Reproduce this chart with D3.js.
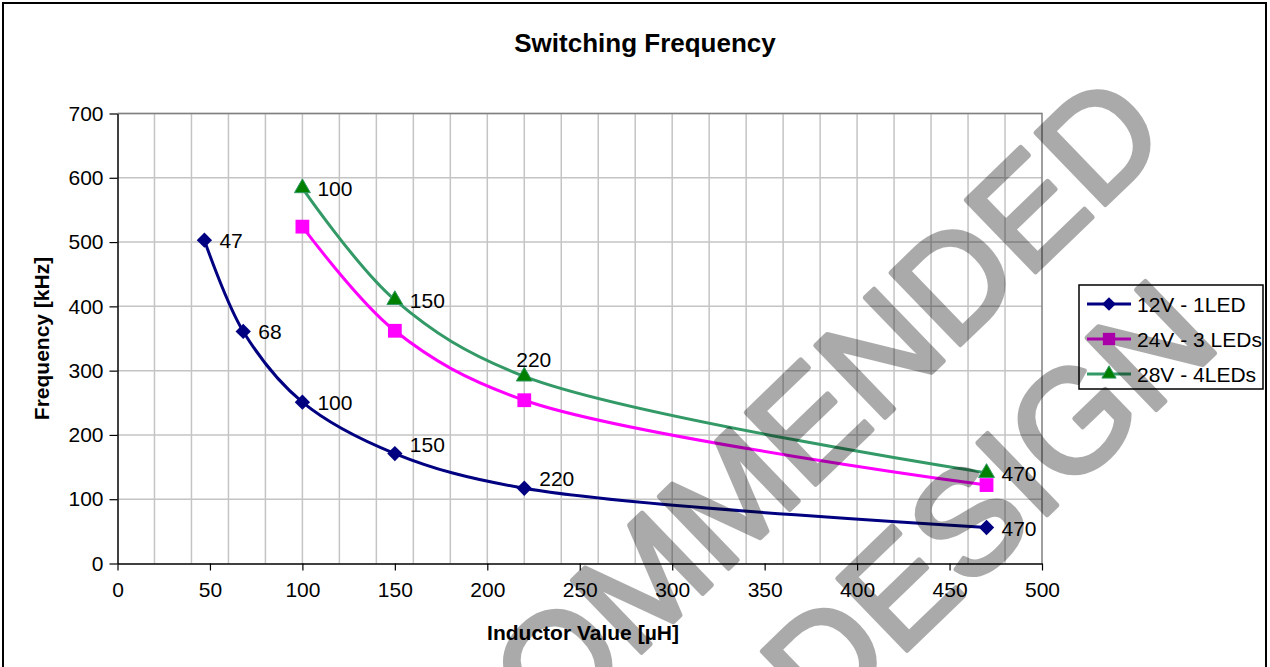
<!DOCTYPE html>
<html>
<head>
<meta charset="utf-8">
<script src="https://cdn.jsdelivr.net/npm/d3@7"></script>
<style>
  body { margin: 0; background: #fff; }
  text { font-family: "Liberation Sans", Arial, sans-serif; }
</style>
</head>
<body>
<div id="chart"></div>
<script>
// inductor values (uH) and switching frequency (kHz) per series
var inductance12 = [47, 68, 100, 150, 220, 470];
var freq12 = [503, 361, 251, 171, 117, 56];
var inductance24 = [100, 150, 220, 470];
var freq24 = [524, 362, 254, 122];
var inductance28 = [100, 150, 220, 470];
var freq28 = [584, 410, 291, 141];

var seriesNames = ["12V - 1LED", "24V - 3 LEDs", "28V - 4LEDs"];
var xTicks = [0, 50, 100, 150, 200, 250, 300, 350, 400, 450, 500];
var yTicks = [0, 100, 200, 300, 400, 500, 600, 700];

var width = 1270,
  height = 667;

var svg = d3.select("#chart").append("svg").attr("width", width).attr("height", height);

var x = d3.scaleLinear().domain([0, 500]).range([117.5, 1042]);
var y = d3.scaleLinear().domain([0, 700]).range([563.5, 113.5]);

// outer border
svg.append("rect").attr("x", 3).attr("y", 3).attr("width", 1263).attr("height", 700)
  .attr("fill", "none").attr("stroke", "#000").attr("stroke-width", 2);

// grid
svg.append("g").selectAll("line").data(d3.range(20, 500, 20)).enter().append("line")
  .attr("x1", function (d) { return x(d); }).attr("x2", function (d) { return x(d); })
  .attr("y1", y(0)).attr("y2", y(700))
  .attr("stroke", "#c4c4c4").attr("stroke-width", 1.5);
svg.append("g").selectAll("line").data(yTicks.slice(1)).enter().append("line")
  .attr("x1", x(0)).attr("x2", x(500))
  .attr("y1", function (d) { return y(d); }).attr("y2", function (d) { return y(d); })
  .attr("stroke", "#c4c4c4").attr("stroke-width", 1.5);

// plot frame (top / right)
svg.append("path")
  .attr("d", "M" + x(0) + "," + y(700) + "H" + x(500) + "V" + y(0))
  .attr("fill", "none").attr("stroke", "#808080").attr("stroke-width", 1.5);

// axes
var xAxis = d3.axisBottom(x).tickValues(xTicks).tickSize(7).tickPadding(12).tickSizeOuter(0);
var yAxis = d3.axisLeft(y).tickValues(yTicks).tickSize(8).tickPadding(6).tickSizeOuter(0);

var gx = svg.append("g").attr("transform", "translate(0," + y(0) + ")").call(xAxis);
var gy = svg.append("g").attr("transform", "translate(" + x(0) + ",0)").call(yAxis);
[gx, gy].forEach(function (g) {
  g.select(".domain").attr("stroke", "#000").attr("stroke-width", 1.5);
  g.selectAll(".tick line").attr("stroke", "#000").attr("stroke-width", 1.2);
  g.selectAll(".tick text").attr("fill", "#000").style("font-size", "21px")
    .style("font-family", "'Liberation Sans', Arial, sans-serif");
});

// titles
svg.append("text").attr("x", 645).attr("y", 52).attr("text-anchor", "middle")
  .style("font-size", "26px").style("font-weight", "bold").text("Switching Frequency");
svg.append("text").attr("x", 583).attr("y", 640).attr("text-anchor", "middle")
  .style("font-size", "21px").style("font-weight", "bold").text("Inductor Value [\u00b5H]");
svg.append("text").attr("transform", "translate(49," + 338.5 + ") rotate(-90)").attr("text-anchor", "middle")
  .style("font-size", "21px").style("font-weight", "bold").text("Frequency [kHz]");

var series = [
  { name: seriesNames[0], xs: inductance12, ys: freq12, color: "#000080", fill: "#000080", marker: d3.symbolDiamond2, size: 150, labels: true },
  { name: seriesNames[1], xs: inductance24, ys: freq24, color: "#ff00ff", fill: "#ff00ff", marker: d3.symbolSquare, size: 190, labels: false },
  { name: seriesNames[2], xs: inductance28, ys: freq28, color: "#339966", fill: "#008000", marker: d3.symbolTriangle, size: 110, labels: true }
];

var line = d3.line()
  .x(function (d) { return x(d[0]); })
  .y(function (d) { return y(d[1]); })
  .curve(d3.curveCatmullRom.alpha(0.5));

// label nudges, keyed by series index and inductance
var nudge = { "0-150": [0, -10], "0-220": [0, -10], "2-220": [-23, -17] };

series.forEach(function (s, si) {
  var pts = s.xs.map(function (v, i) { return [v, s.ys[i]]; });
  svg.append("path").datum(pts).attr("d", line)
    .attr("fill", "none").attr("stroke", s.color).attr("stroke-width", 3);
  svg.append("g").selectAll("path").data(pts).enter().append("path")
    .attr("d", d3.symbol().type(s.marker).size(s.size))
    .attr("transform", function (d) { return "translate(" + x(d[0]) + "," + y(d[1]) + ")"; })
    .attr("fill", s.fill).attr("stroke", s.fill === s.color ? "none" : s.color).attr("stroke-width", 1);
  if (s.labels) {
    svg.append("g").selectAll("text").data(pts).enter().append("text")
      .attr("x", function (d) { var n = nudge[si + "-" + d[0]] || [0, 0]; return x(d[0]) + 15 + n[0]; })
      .attr("y", function (d) { var n = nudge[si + "-" + d[0]] || [0, 0]; return y(d[1]) + 8 + n[1]; })
      .style("font-size", "21px").attr("fill", "#000")
      .text(function (d) { return d[0]; });
  }
});

// legend
var lg = svg.append("g");
lg.append("rect").attr("x", 1079).attr("y", 285).attr("width", 184).attr("height", 104)
  .attr("fill", "#fff").attr("stroke", "#000").attr("stroke-width", 1.5);
series.forEach(function (s, i) {
  var cy = 304 + i * 35;
  lg.append("line").attr("x1", 1087).attr("x2", 1131).attr("y1", cy).attr("y2", cy)
    .attr("stroke", s.color).attr("stroke-width", 3);
  lg.append("path").attr("d", d3.symbol().type(s.marker).size(s.size * 0.8))
    .attr("transform", "translate(1109," + cy + ")")
    .attr("fill", s.fill).attr("stroke", s.fill === s.color ? "none" : s.color);
  lg.append("text").attr("x", 1137).attr("y", cy + 8).style("font-size", "21px").text(s.name);
});

// watermark
var wm = svg.append("g").attr("fill", "#000").attr("stroke", "#000").attr("stroke-width", 5)
  .attr("stroke-linejoin", "round").attr("opacity", 0.33)
  .style("pointer-events", "none");
wm.append("text").attr("transform", "translate(1172,140) rotate(-44)")
  .attr("text-anchor", "end").style("font-size", "145px").text("NOT RECOMMENDED");
wm.append("text").attr("transform", "translate(1223,345) rotate(-44)")
  .attr("text-anchor", "end").style("font-size", "145px").text("FOR NEW DESIGN");
</script>
</body>
</html>
